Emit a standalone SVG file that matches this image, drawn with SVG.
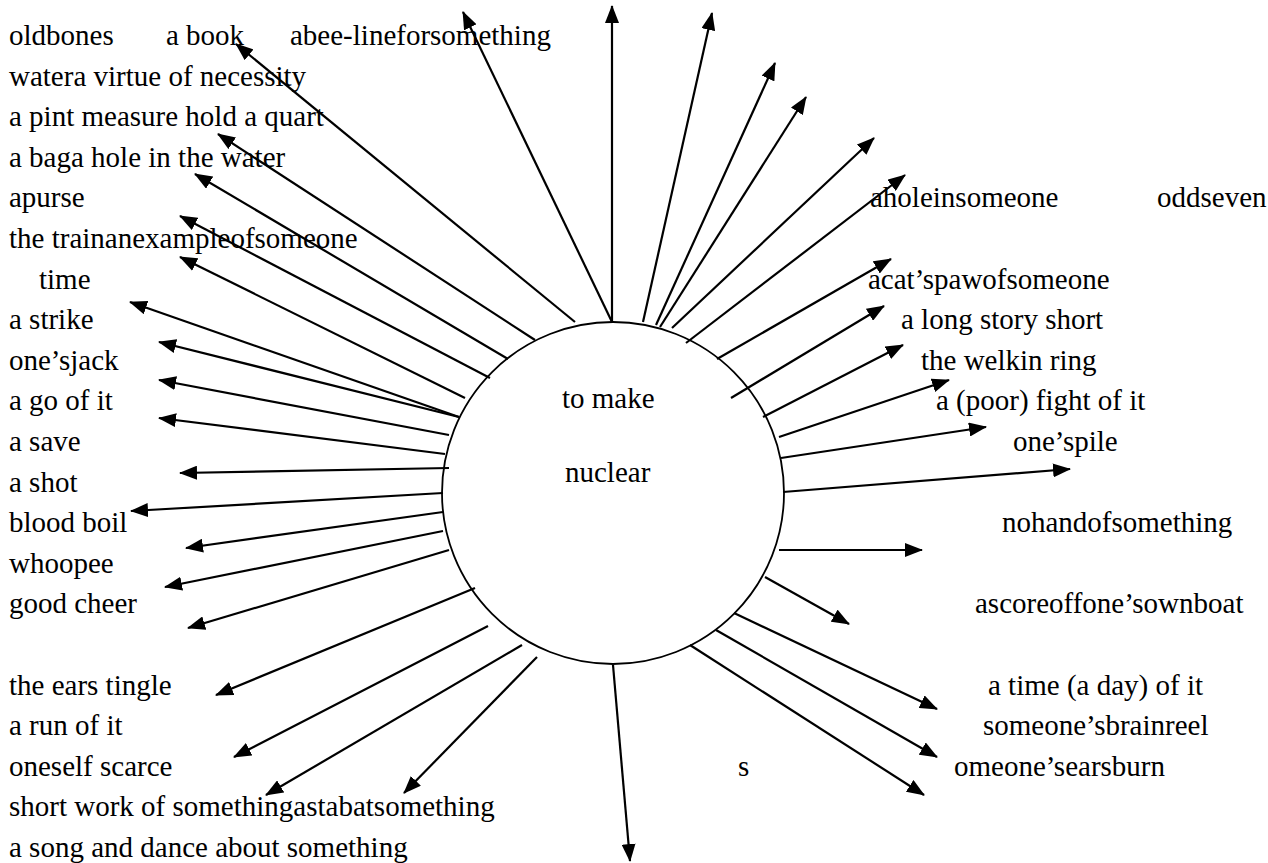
<svg xmlns="http://www.w3.org/2000/svg" width="1268" height="863" viewBox="0 0 1268 863">
<style>
text{font-family:"Liberation Serif","Times New Roman",serif;font-size:29px;fill:#000}
.c{fill:#fff;stroke:#000;stroke-width:1.8}
.e line{stroke:#000;stroke-width:2.2;marker-end:url(#ah)}
</style>
<defs>
<marker id="ah" markerUnits="userSpaceOnUse" markerWidth="18" markerHeight="14" viewBox="0 0 18 14" refX="17" refY="7" orient="auto">
<path d="M0,0 L18,7 L0,14 z" fill="#000"/>
</marker>
</defs>
<rect width="1268" height="863" fill="#fff"/>
<g id="center"><circle class="c" cx="613" cy="493" r="171"/><text x="562" y="408">to make</text><text x="565" y="482">nuclear</text></g>
<g id="connectors" class="e">
<line x1="612" y1="322" x2="612" y2="6"/>
<line x1="612" y1="322" x2="463" y2="12"/>
<line x1="575" y1="322" x2="236" y2="44"/>
<line x1="535" y1="340" x2="218" y2="134"/>
<line x1="508" y1="359" x2="195" y2="174"/>
<line x1="490" y1="378" x2="180" y2="216"/>
<line x1="465" y1="398" x2="180" y2="257"/>
<line x1="459" y1="417" x2="130" y2="302"/>
<line x1="459" y1="417" x2="159" y2="342"/>
<line x1="449" y1="435" x2="159" y2="380"/>
<line x1="445" y1="454" x2="159" y2="418"/>
<line x1="449" y1="468" x2="180" y2="473"/>
<line x1="443" y1="493" x2="131" y2="511"/>
<line x1="443" y1="512" x2="186" y2="548"/>
<line x1="443" y1="531" x2="165" y2="587"/>
<line x1="449" y1="550" x2="188" y2="628"/>
<line x1="475" y1="588" x2="216" y2="695"/>
<line x1="488" y1="626" x2="234" y2="757"/>
<line x1="522" y1="645" x2="266" y2="795"/>
<line x1="537" y1="657" x2="404" y2="793"/>
<line x1="613" y1="665" x2="630" y2="861"/>
<line x1="643" y1="322" x2="712" y2="13"/>
<line x1="656" y1="325" x2="775" y2="63"/>
<line x1="660" y1="327" x2="806" y2="97"/>
<line x1="672" y1="328" x2="874" y2="138"/>
<line x1="686" y1="343" x2="905" y2="175"/>
<line x1="717" y1="359" x2="891" y2="259"/>
<line x1="731" y1="398" x2="884" y2="306"/>
<line x1="763" y1="417" x2="903" y2="345"/>
<line x1="779" y1="437" x2="949" y2="380"/>
<line x1="781" y1="458" x2="986" y2="427"/>
<line x1="783" y1="492" x2="1070" y2="469"/>
<line x1="779" y1="550" x2="922" y2="550"/>
<line x1="765" y1="577" x2="849" y2="624"/>
<line x1="734" y1="613" x2="937" y2="709"/>
<line x1="716" y1="630" x2="937" y2="757"/>
<line x1="690" y1="645" x2="924" y2="795"/>
</g>
<g id="n-oldbones"><text x="9" y="45">oldbones</text></g>
<g id="n-abook"><text x="166" y="45">a book</text></g>
<g id="n-abeeline"><text x="290" y="45">abee-lineforsomething</text></g>
<g id="n-watera"><text x="9" y="85.6">watera virtue of necessity</text></g>
<g id="n-pint"><text x="9" y="126.2">a pint measure hold a quart</text></g>
<g id="n-baga"><text x="9" y="166.8">a baga hole in the water</text></g>
<g id="n-apurse"><text x="9" y="207.4">apurse</text></g>
<g id="n-ahole"><text x="870" y="207.4">aholeinsomeone</text></g>
<g id="n-oddseven"><text x="1157" y="207.4">oddseven</text></g>
<g id="n-train"><text x="9" y="248">the trainanexampleofsomeone</text></g>
<g id="n-time"><text x="39" y="288.6">time</text></g>
<g id="n-acat"><text x="868" y="288.6">acat’spawofsomeone</text></g>
<g id="n-strike"><text x="9" y="329.2">a strike</text></g>
<g id="n-longstory"><text x="901" y="329.2">a long story short</text></g>
<g id="n-jack"><text x="9" y="369.8">one’sjack</text></g>
<g id="n-welkin"><text x="921" y="369.8">the welkin ring</text></g>
<g id="n-goofit"><text x="9" y="410.4">a go of it</text></g>
<g id="n-fight"><text x="936" y="410.4">a (poor) fight of it</text></g>
<g id="n-save"><text x="9" y="451">a save</text></g>
<g id="n-pile"><text x="1013" y="451">one’spile</text></g>
<g id="n-shot"><text x="9" y="491.6">a shot</text></g>
<g id="n-blood"><text x="9" y="532.2">blood boil</text></g>
<g id="n-nohand"><text x="1002" y="532.2">nohandofsomething</text></g>
<g id="n-whoopee"><text x="9" y="572.8">whoopee</text></g>
<g id="n-cheer"><text x="9" y="613.4">good cheer</text></g>
<g id="n-score"><text x="975" y="613.4">ascoreoffone’sownboat</text></g>
<g id="n-ears"><text x="9" y="694.6">the ears tingle</text></g>
<g id="n-timeday"><text x="988" y="694.6">a time (a day) of it</text></g>
<g id="n-run"><text x="9" y="735.2">a run of it</text></g>
<g id="n-brain"><text x="983" y="735.2">someone’sbrainreel</text></g>
<g id="n-scarce"><text x="9" y="775.8">oneself scarce</text></g>
<g id="n-s"><text x="738" y="775.8">s</text></g>
<g id="n-earsburn"><text x="954" y="775.8">omeone’searsburn</text></g>
<g id="n-shortwork"><text x="9" y="816.4">short work of somethingastabatsomething</text></g>
<g id="n-song"><text x="9" y="857">a song and dance about something</text></g>
</svg>
